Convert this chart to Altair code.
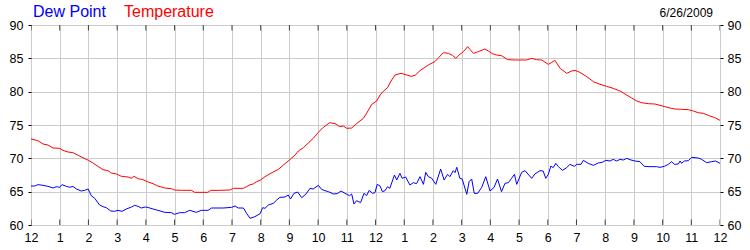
import altair as alt
import pandas as pd

tick_labels = ["12", "1", "2", "3", "4", "5", "6", "7", "8", "9", "10", "11",
               "12", "1", "2", "3", "4", "5", "6", "7", "8", "9", "10", "11", "12"]
y_ticks = [60, 65, 70, 75, 80, 85, 90]
series_names = ["Dew Point", "Temperature"]
series_colors = ["#0000ff", "#ff0000"]
date_label = "6/26/2009"

temp_hours = [0.0, 0.24, 0.42, 0.59, 0.77, 1.0, 1.11, 1.29, 1.46, 1.64, 1.81, 2.0, 2.16, 2.33, 2.51, 2.68, 2.80, 2.98,
              3.15, 3.38, 3.49, 3.59, 3.73, 3.90, 4.08, 4.25, 4.42, 4.66, 4.89, 5.0, 5.24, 5.59, 5.70, 6.16,
              6.26, 6.58, 6.93, 7.05, 7.40, 7.51, 7.63, 7.74, 7.86, 8.0, 8.15, 8.33, 8.50, 8.62, 8.79, 9.0, 9.20,
              9.31, 9.49, 9.66, 9.83, 10.01, 10.18, 10.41, 10.59, 10.76, 10.88, 11.0, 11.17, 11.34, 11.58, 11.69,
              11.87, 12.04,
              12.16, 12.27, 12.42, 12.54, 12.68, 12.89, 13.09, 13.24, 13.38, 13.55, 13.72, 13.90, 14.07, 14.21,
              14.36, 14.54, 14.68, 14.80, 14.94, 15.06, 15.21, 15.29, 15.41, 15.58, 15.81, 15.93, 16.07, 16.22,
              16.39, 16.60, 16.86, 17.26, 17.44, 17.61, 17.79, 18.02, 18.14, 18.25,
              18.43, 18.66, 18.83, 18.95, 19.12, 19.36, 19.59, 19.82, 20.05, 20.28, 20.52, 20.75, 20.92, 21.10,
              21.27, 21.50, 21.73, 21.91, 22.08, 22.26, 22.43, 22.66, 22.90, 23.07, 23.24, 23.42, 23.59, 23.82, 24.0]
temp_values = [72.9, 72.65, 72.15, 72.0, 71.55, 71.5, 71.2, 70.95, 70.85, 70.45, 70.1, 69.7, 69.3, 68.8, 68.3, 68.15,
               67.8, 67.65, 67.3, 67.2, 67.0, 67.3, 66.95, 66.8, 66.45, 66.2, 65.85, 65.55, 65.45, 65.25, 65.2, 65.2,
               64.9, 64.9,
               65.2, 65.2, 65.25, 65.5, 65.5, 65.75, 66.05, 66.15, 66.5, 66.75, 67.25, 67.7, 68.1, 68.35, 69.0, 69.75,
               70.5, 71.1, 71.6, 72.3, 73.0, 73.9, 74.65, 75.35, 75.2, 74.75, 74.85, 74.5, 74.55, 75.2, 76.0, 76.75,
               78.1, 78.6,
               79.5, 80.05, 80.6, 81.6, 82.5, 82.75, 82.5, 82.3, 82.45, 83.15, 83.65, 84.15, 84.5, 85.15, 85.85, 85.75,
               85.45, 85.0, 85.6, 86.0, 86.75, 86.35, 85.75, 86.0, 86.4, 86.1, 85.7, 85.5, 85.4, 84.8, 84.75, 84.75,
               85.0, 84.8, 84.75, 84.1, 84.4, 84.7,
               83.5, 82.75, 83.1, 83.2, 82.9, 82.25, 81.5, 81.1, 80.8, 80.5, 80.1, 79.5, 79.05, 78.6, 78.35, 78.2,
               78.15, 77.95, 77.75, 77.55, 77.4, 77.35, 77.3, 77.1, 76.85, 76.75, 76.45, 76.1, 75.7]

dew_hours = [0.0, 0.13, 0.24, 0.42, 0.59, 0.77, 0.88, 1.0, 1.08, 1.23, 1.35, 1.46, 1.58, 1.75, 1.87, 1.99, 2.10, 2.22,
             2.39, 2.51, 2.62, 2.78, 2.91, 3.03, 3.17, 3.32, 3.50, 3.61, 3.73, 3.84, 3.98, 4.10, 4.25, 4.42, 4.66,
             4.89, 5.0, 5.18, 5.35, 5.53, 5.76, 5.93, 6.17,
             6.29, 6.70, 6.99, 7.11, 7.22, 7.40, 7.51, 7.63, 7.80, 7.98, 8.07, 8.15, 8.27, 8.44, 8.56, 8.67, 8.85,
             8.96, 9.04, 9.16, 9.29, 9.43, 9.58, 9.72, 9.83, 10.01, 10.12, 10.24, 10.36, 10.53, 10.67, 10.80, 10.94,
             11.09, 11.17, 11.25, 11.34, 11.48, 11.60, 11.69, 11.78, 11.90, 11.98, 12.06,
             12.16, 12.24, 12.33, 12.42, 12.50, 12.66, 12.74, 12.85, 12.93, 13.05, 13.20, 13.32, 13.43, 13.55,
             13.67, 13.75, 13.84, 13.96, 14.10, 14.27, 14.39, 14.51, 14.59, 14.71, 14.77, 14.83, 14.94, 15.02,
             15.18, 15.26, 15.35, 15.44, 15.56, 15.70, 15.84, 15.99, 16.13, 16.25, 16.39, 16.51, 16.63, 16.74,
             16.84, 16.92, 17.09, 17.21, 17.44, 17.55, 17.73, 17.84, 17.93, 18.02, 18.11, 18.19,
             18.28, 18.37, 18.51, 18.66, 18.77, 18.93, 19.01, 19.16, 19.24, 19.41, 19.59, 19.76, 19.90, 20.02,
             20.17, 20.28, 20.40, 20.52, 20.63, 20.75, 20.90, 21.04, 21.21, 21.36, 21.56, 21.79, 21.91, 22.06,
             22.20, 22.32, 22.41, 22.55, 22.61, 22.66, 22.76, 22.90, 23.01, 23.24, 23.36, 23.53, 23.71, 23.85, 24.0]
dew_values = [65.85, 65.85, 66.05, 65.95, 65.8, 65.55, 65.75, 65.65, 66.05, 65.8, 65.65, 65.8, 65.4, 65.1, 65.2, 65.4,
              64.4, 64.0, 63.0, 62.75, 62.6, 62.1, 62.05, 62.2, 62.05, 62.4, 62.7, 62.95, 62.8, 62.55, 62.7, 62.6,
              62.4, 62.2, 61.9, 61.85, 61.6, 61.85, 61.85, 62.2, 61.9, 62.2, 62.2,
              62.55, 62.55, 62.65, 62.85, 62.55, 62.55, 61.75, 61.0, 61.25, 61.7, 62.6, 62.5, 63.0, 63.25, 63.75,
              64.15, 64.2, 64.5, 63.9, 64.75, 64.95, 64.1, 64.65, 65.5, 65.4, 65.95, 65.35, 65.15, 65.0, 64.65, 64.7,
              65.1, 64.75, 64.4, 64.65, 63.15, 63.65, 63.35, 64.75, 64.4, 65.2, 64.75, 64.85, 66.1,
              65.85, 65.0, 65.15, 65.75, 65.5, 67.5, 66.75, 67.75, 67.0, 67.2, 66.0, 66.35, 66.2, 67.25, 66.1, 67.9,
              67.25, 67.0, 66.1, 68.4, 66.75, 67.6, 67.25, 68.15, 67.85, 68.65, 67.0, 66.9, 64.6, 66.5, 66.9, 64.75,
              64.75, 65.65, 67.25, 65.1, 65.65, 66.9, 65.0, 66.25, 66.35, 67.0, 67.6, 66.1, 67.9, 68.15, 67.0, 67.65,
              68.15, 68.1, 67.0, 67.6, 68.85, 68.6,
              69.25, 68.75, 68.2, 68.6, 69.1, 68.8, 69.1, 69.1, 69.7, 69.25, 68.95, 69.3, 69.4, 69.7, 69.6, 69.85,
              69.6, 69.85, 69.75, 70.0, 69.75, 69.6, 69.5, 68.8, 68.75, 68.75, 68.65, 68.8, 69.1, 69.5, 69.1, 69.15,
              69.6, 69.25, 69.6, 69.65, 70.15, 70.05, 69.85, 69.35, 69.5, 69.6, 69.25]

rows = [{"hour": h, "value": v, "series": series_names[0]} for h, v in zip(dew_hours, dew_values)]
rows += [{"hour": h, "value": v, "series": series_names[1]} for h, v in zip(temp_hours, temp_values)]
df = pd.DataFrame(rows)

tick_hours = list(range(len(tick_labels)))
tick_df = pd.DataFrame([{"hour": h, "value": y} for h in tick_hours for y in (y_ticks[0], y_ticks[-1])])

FONT = "Liberation Sans"
GRID = "#cccccc"

x_scale = alt.Scale(domain=[tick_hours[0], tick_hours[-1]], nice=False, zero=False)
label_expr = "[" + ",".join("'%s'" % t for t in tick_labels) + "][datum.value]"
x_axis = alt.Axis(values=tick_hours, labelExpr=label_expr, title=None, grid=True, gridColor=GRID,
                  ticks=False, domain=False, labelFlush=False, labelOverlap=False, labelPadding=6,
                  labelFontSize=12.5, labelFont=FONT, labelColor="black")


def y_scale():
    return alt.Scale(domain=[y_ticks[0], y_ticks[-1]], nice=False, zero=False)


left_axis = alt.Axis(values=y_ticks, title=None, grid=True, gridColor=GRID, ticks=True, tickSize=3,
                     tickColor="black", domain=False, labelFlush=False, labelOverlap=False, labelPadding=5,
                     labelFontSize=12.5, labelFont=FONT, labelColor="black", orient="left")
right_axis = alt.Axis(values=y_ticks, title=None, grid=False, ticks=True, tickSize=3,
                      tickColor="black", domain=False, labelFlush=False, labelOverlap=False, labelPadding=4,
                      labelFontSize=12.5, labelFont=FONT, labelColor="black", orient="right")

lines = alt.Chart(df).mark_line(strokeWidth=1).encode(
    x=alt.X("hour:Q", scale=x_scale, axis=x_axis),
    y=alt.Y("value:Q", scale=y_scale(), axis=left_axis),
    color=alt.Color("series:N", scale=alt.Scale(domain=series_names, range=series_colors), legend=None),
)

right = alt.Chart(df).mark_line(opacity=0).encode(
    x=alt.X("hour:Q", scale=x_scale, axis=x_axis),
    y=alt.Y("value:Q", scale=y_scale(), axis=right_axis),
    detail="series:N",
)

ticks = alt.Chart(tick_df).mark_tick(orient="vertical", size=11, thickness=1, color="black", clip=True).encode(
    x=alt.X("hour:Q", scale=x_scale, axis=x_axis),
    y=alt.Y("value:Q", scale=y_scale(), axis=None),
)

txt_dew = alt.Chart(pd.DataFrame({"t": [series_names[0]]})).mark_text(
    align="left", baseline="alphabetic", fontSize=16, font=FONT, color=series_colors[0]
).encode(text="t:N", x=alt.value(2), y=alt.value(-8))

txt_temp = alt.Chart(pd.DataFrame({"t": [series_names[1]]})).mark_text(
    align="left", baseline="alphabetic", fontSize=16, font=FONT, color=series_colors[1]
).encode(text="t:N", x=alt.value(93), y=alt.value(-8))

txt_date = alt.Chart(pd.DataFrame({"t": [date_label]})).mark_text(
    align="right", baseline="alphabetic", fontSize=12, font=FONT, color="black"
).encode(text="t:N", x=alt.value(682), y=alt.value(-8))

chart = alt.layer(ticks, lines, right, txt_dew, txt_temp, txt_date).resolve_scale(
    y="independent"
).properties(
    width=689, height=200,
    autosize=alt.AutoSizeParams(type="none"),
    padding={"left": 31, "top": 25, "right": 30, "bottom": 25},
    background="white",
).configure_view(stroke="black", strokeWidth=1)

chart.save("out.html", embed_options={"renderer": "svg", "actions": False})
